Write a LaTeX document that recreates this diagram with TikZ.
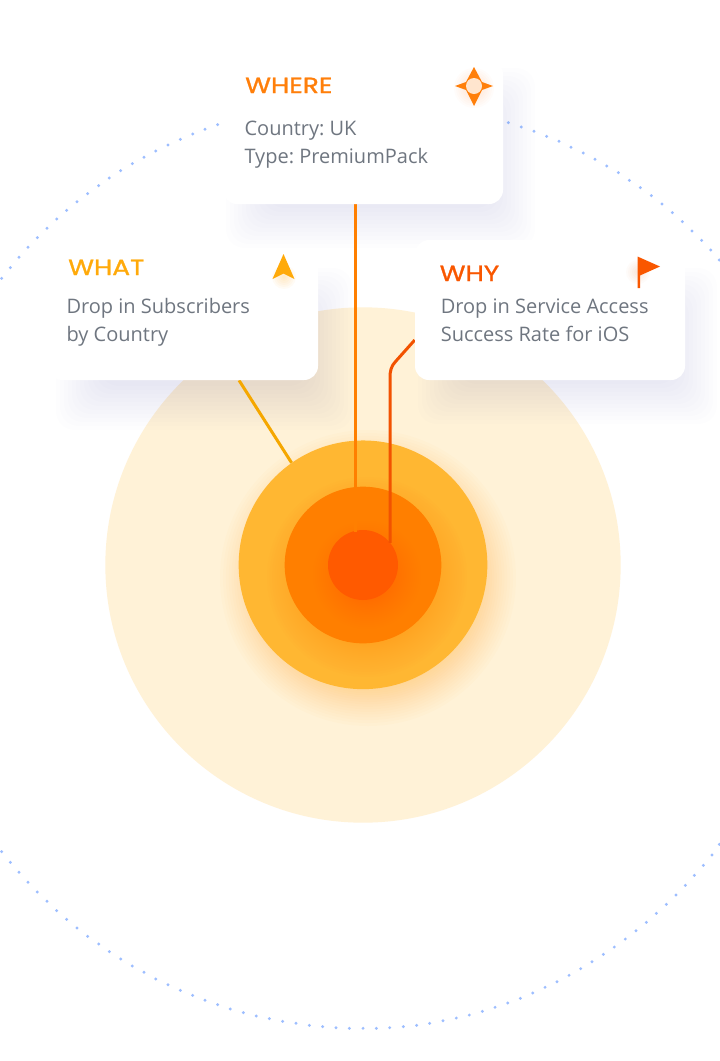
\documentclass[tikz,border=0pt]{standalone}
\usepackage{fontspec}
\setmainfont{Open Sans}
\newfontfamily\headf[FakeStretch=1.2,FakeBold=1.2]{Poppins}
\pgfdeclarelayer{back}
\pgfsetlayers{back,main}
\definecolor{bigc}{HTML}{FFF2D7}
\definecolor{midc}{HTML}{FFB732}
\definecolor{innerc}{HTML}{FF7F00}
\definecolor{corec}{HTML}{FF5A00}
\definecolor{whatc}{HTML}{FFAA0A}
\definecolor{whatl}{HTML}{F5A700}
\definecolor{wherec}{HTML}{FF7F0A}
\definecolor{whyc}{HTML}{F95700}
\definecolor{whyl}{HTML}{F25200}
\definecolor{bodyc}{HTML}{6F7680}
\definecolor{dotc}{HTML}{9DBEFF}
\definecolor{shadc}{HTML}{254A9C}
\tikzset{
  card/.style={fill=white,draw=none,rounded corners=10.5pt,inner sep=0pt,minimum width=#1},
  ring/.style={circle,fill=#1,draw=none,inner sep=0pt},
  headtext/.style={anchor=base west,inner sep=0pt,font=\headf\fontsize{16.5}{20}\selectfont},
  bodytext/.style={anchor=base west,inner sep=0pt,text=bodyc,font=\fontsize{15}{21}\selectfont\frenchspacing},
  link/.style={line width=2.25pt,#1},
  icon/.style={fill=#1,draw=none}
}
\newcommand{\dotrun}[3]{\foreach \px/\py in {#3}{\fill[dotc] ({#1+\px/3},{#2+\py/3}) circle[radius=1.6];}}
\newcommand{\cardshadow}[4]{\foreach \s in {-22,-18,-14,-10,-6,-2,2,6,10,14,18,22}{\fill[shadc,opacity=0.0062,rounded corners=14pt] ({#1-\s},{#2-\s}) rectangle ({#3+\s},{#4+\s});}}
\newcommand{\glowring}[6]{\foreach \s in {0,1,...,40}{\fill[#5,opacity=#6] (#1,#2) circle[radius={#3-#4+2*#4*(\s/40)*(\s/40)}];}}
\begin{document}
\begin{tikzpicture}[x=0.75pt,y=-0.75pt]
\useasboundingbox (0,0) rectangle (720,1061);
% cards
\node[card=210pt,minimum height=108pt] (wherecard) at (363,132) {};
\node[card=202.5pt,minimum height=97.5pt] (whatcard) at (183,315) {};
\node[card=202.5pt,minimum height=105pt] (whycard) at (550,310) {};
% texts
\node[headtext,text=wherec] (wheretitle) at (245,93) {WHERE};
\node[bodytext] (wherea) at (244.3,135) {Country: UK};
\node[bodytext] (whereb) at (244.3,163) {Type: PremiumPack};
\node[headtext,text=whatc] (whattitle) at (68,275) {WHAT};
\node[bodytext] (whata) at (66.3,313) {Drop in Subscribers};
\node[bodytext] (whatb) at (66.3,341) {by Country};
\node[headtext,text=whyc] (whytitle) at (439.5,281) {WHY};
\node[bodytext] (whya) at (440.5,313) {Drop in Service Access};
\node[bodytext] (whyb) at (440.5,341) {Success Rate for iOS};
% icons
\foreach \s in {4,6,...,20}{\fill[wherec,opacity=0.02] (474,88) circle[radius=\s];}
\foreach \s in {2,4,...,12}{\fill[whatc,opacity=0.04] (284,277) circle[radius=\s];}
\foreach \s in {2,4,...,12}{\fill[whyc,opacity=0.025] (638,272) circle[radius=\s];}
\fill[icon=wherec] (474,67) -- (482,82) -- (493,86) -- (482,90) -- (474,106) -- (466,90) -- (455,86) -- (466,82) -- cycle;
\fill[fill=white,opacity=0.8] (474,86) circle[radius=8];
\fill[icon=whatc] (283.5,254) -- (294.5,279) -- (283.5,273.5) -- (272.5,279) -- cycle;
\fill[icon=whyc] (637.5,256.5) -- (660,266.5) -- (640,275.5) -- (640,288) -- (637.5,288) -- cycle;
\begin{pgfonlayer}{back}
\fill[white] (0,0) rectangle (720,1061);
\dotrun{0}{110}{5/505,31/473,57/442,84/412,112/383,141/355,170/327,200/301,231/275,263/251,296/227,328/204,362/182,397/161,432/142,467/123,504/105,541/88,578/72,615/58,653/44}
\dotrun{490}{100}{55/68,94/81,132/94,170/109,207/124,243/142,280/159,315/178,350/198,385/218,418/241,451/263,484/287,516/312,547/338,577/365,606/393,635/421,662/450,688/480}
\dotrun{0}{830}{5/65,31/97,57/127,84/157,112/186,141/214,170/242,200/268,231/294,263/319,296/342,328/365,362/387,397/408,432/427,467/447,504/464,541/481,578/496,615/511,653/524,691/537,730/548,769/558,808/566,848/574,888/580,928/586,968/590,1008/593,1048/595,1089/595}
\dotrun{360}{830}{49/595,89/593,130/590,170/586,209/580,249/572,289/564,328/555,367/544,405/532,443/519,481/505,518/489,555/472,591/455,627/436,662/416,696/395,730/373,763/351,796/327,828/302,859/277,889/250,919/223,948/195,976/166,1003/136,1030/106,1056/75,1078/43}
\node[ring=bigc,minimum size=386.5pt] (bigc) at (363,565) {};
\cardshadow{248}{90}{513}{226}
\cardshadow{78}{290}{330}{408}
\cardshadow{440}{290}{695}{402}
\glowring{368}{578}{118}{30}{whatc}{0.02}
\node[ring=midc,minimum size=186.5pt] (mid) at (363,564.8) {};
\draw[link=whatl] ([xshift=42pt]whatcard.south) -- (mid.125.5);
\glowring{367}{577}{74}{26}{innerc}{0.02}
\node[ring=innerc,minimum size=117.5pt] (inner) at (363,565) {};
\glowring{367}{575}{32}{22}{corec}{0.02}
\node[ring=corec,minimum size=52.5pt] (core) at (363,565) {};
\draw[link=innerc] ([xshift=-5.625pt]wherecard.south) -- ([xshift=-5.625pt,yshift=-1.5pt]core.north);
\draw[link=whyl] ([yshift=-22.5pt]whycard.west) -- (396,361) .. controls (391,366) and (390,371) .. (390,378) -- (390,378 |- core.39.5);
\end{pgfonlayer}
\end{tikzpicture}
\end{document}
